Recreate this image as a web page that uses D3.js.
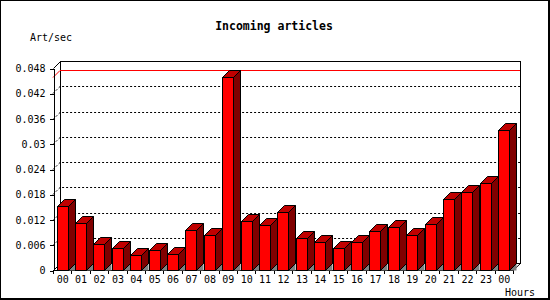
<!DOCTYPE html>
<html>
<head>
<meta charset="utf-8">
<script src="https://cdn.jsdelivr.net/npm/d3@7"></script>
<style>
  html, body { margin: 0; padding: 0; background: #fff; }
  svg { display: block; }
  text { font-family: "DejaVu Sans Mono", monospace; fill: #000; }
</style>
</head>
<body>
<svg id="chart" width="550" height="300"></svg>
<script>
// ---- data ----
const hours = ["00","01","02","03","04","05","06","07","08","09","10","11","12",
               "13","14","15","16","17","18","19","20","21","22","23","00"];
const rate = [0.0152, 0.0111, 0.0061, 0.0052, 0.0035, 0.0047, 0.0037, 0.0094, 0.0082,
              0.0458, 0.0116, 0.0106, 0.0137, 0.0075, 0.0066, 0.0052, 0.0066, 0.0092,
              0.0101, 0.0082, 0.0109, 0.0168, 0.0185, 0.0206, 0.0333];
const yTickValues = [0, 0.006, 0.012, 0.018, 0.024, 0.03, 0.036, 0.042, 0.048];
const yTickLabels = ["0","0.006","0.012","0.018","0.024","0.03","0.036","0.042","0.048"];
const titleText = "Incoming articles";
const yTitle = "Art/sec";
const xTitle = "Hours";

// ---- layout ----
const L = 53, R = 513, B = 270, T = 68, D = 7;
const svg = d3.select("#chart");
const x = d3.scaleBand().domain(d3.range(hours.length)).range([L, R]);
const y = d3.scaleLinear().domain([0, 0.048]).range([B, T]);
const px = v => Math.round(v) + 0.5;

// outer border
svg.append("rect").attr("x", 0.5).attr("y", 0.5).attr("width", 548).attr("height", 298)
  .attr("fill", "#fff").attr("stroke", "#000").attr("stroke-width", 1);
svg.append("rect").attr("x", 548).attr("y", 0).attr("width", 2).attr("height", 300).attr("fill", "#000");
svg.append("rect").attr("x", 0).attr("y", 298).attr("width", 550).attr("height", 2).attr("fill", "#000");

// title
svg.append("text").attr("x", 274).attr("y", 30).attr("text-anchor", "middle")
  .style("font-size", "11.5px").style("font-weight", "bold").text(titleText);
svg.append("text").attr("x", 30).attr("y", 41).style("font-size", "10px").text(yTitle);
svg.append("text").attr("x", 505).attr("y", 296).style("font-size", "10px").text(xTitle);

const g = svg.append("g").attr("shape-rendering", "crispEdges");

// back plane
g.append("rect")
  .attr("x", px(L + D)).attr("y", px(T - D))
  .attr("width", Math.round(R - L)).attr("height", Math.round(B - T))
  .attr("fill", "#fff").attr("stroke", "#000");

// dotted gridlines (front axis -> back plane)
yTickValues.filter(v => v > 0 && v < 0.048).forEach(v => {
  const yy = Math.round(y(v));
  svg.append("path")
    .attr("d", `M${L},${yy + 0.5}L${L + D},${yy - D + 0.5}L${R + D},${yy - D + 0.5}`)
    .attr("fill", "none").attr("stroke", "#000").attr("stroke-dasharray", "2,2");
});

// max line
const maxV = d3.max(rate);
const ym = Math.round(y(maxV));
svg.append("path")
  .attr("d", `M${L},${ym + 0.5}L${L + D},${ym - D + 0.5}L${R + D},${ym - D + 0.5}`)
  .attr("fill", "none").attr("stroke", "#f00");

// top-left diagonal and floor edges
svg.append("path").attr("d", `M${L + 0.5},${T + 0.5}L${L + D + 0.5},${T - D + 0.5}`)
  .attr("stroke", "#000").attr("fill", "none");
svg.append("path").attr("d", `M${R},${B + 0.5}L${R + D + 0.5},${B - D + 0.5}`)
  .attr("stroke", "#000").attr("fill", "none");
svg.append("path").attr("d", `M${L + 0.5},${B + 0.5}L${L + D + 0.5},${B - D + 0.5}`)
  .attr("stroke", "#000").attr("fill", "none");

// y axis
const yAxis = d3.axisLeft(y).tickValues(yTickValues).tickSize(4).tickSizeOuter(0).tickPadding(4)
  .tickFormat((d, i) => yTickLabels[i]);
const ga = svg.append("g").attr("transform", `translate(${L + 0.5},0.5)`).call(yAxis);
ga.selectAll("path,line").attr("stroke", "#000").attr("shape-rendering", "crispEdges");
ga.selectAll("text").style("font-size", "10px").style("font-family", "DejaVu Sans Mono, monospace");

// x axis line + ticks at band boundaries
g.append("line").attr("x1", L).attr("x2", R + 0.5).attr("y1", B + 0.5).attr("y2", B + 0.5).attr("stroke", "#000");
d3.range(hours.length + 1).forEach(i => {
  const xx = px(L + i * x.step());
  g.append("line").attr("x1", xx).attr("x2", xx).attr("y1", B).attr("y2", B + 4).attr("stroke", "#000");
});
svg.append("g").selectAll("text").data(hours).join("text")
  .attr("x", (d, i) => x(i) + x.bandwidth() / 2 + 0.5).attr("y", 283)
  .attr("text-anchor", "middle").style("font-size", "10px").text(d => d);

// bars
const bars = svg.append("g").attr("stroke", "#000").attr("stroke-width", 1).attr("stroke-linejoin", "miter");
rate.forEach((v, i) => {
  const x0 = Math.round(x(i) + x.bandwidth() * 0.2) + 0.5;
  const x1 = x0 + 11;
  const yt = Math.round(y(v)) + 0.5;
  const yb = B + 0.5;
  // floor shadow
  bars.append("path").attr("d", `M${x1},${yb}L${x1 + D},${yb - D}L${x1 + D},${yb}Z`)
    .attr("fill", "#808080").attr("stroke", "none");
  // side
  bars.append("path").attr("d", `M${x1},${yb}L${x1},${yt}L${x1 + D},${yt - D}L${x1 + D},${yb - D}Z`)
    .attr("fill", "#800000");
  // top
  bars.append("path").attr("d", `M${x0},${yt}L${x0 + D},${yt - D}L${x1 + D},${yt - D}L${x1},${yt}Z`)
    .attr("fill", "#c00000");
  // front
  bars.append("rect").attr("x", x0).attr("y", yt).attr("width", x1 - x0).attr("height", yb - yt)
    .attr("fill", "#ff0000");
});
</script>
</body>
</html>
